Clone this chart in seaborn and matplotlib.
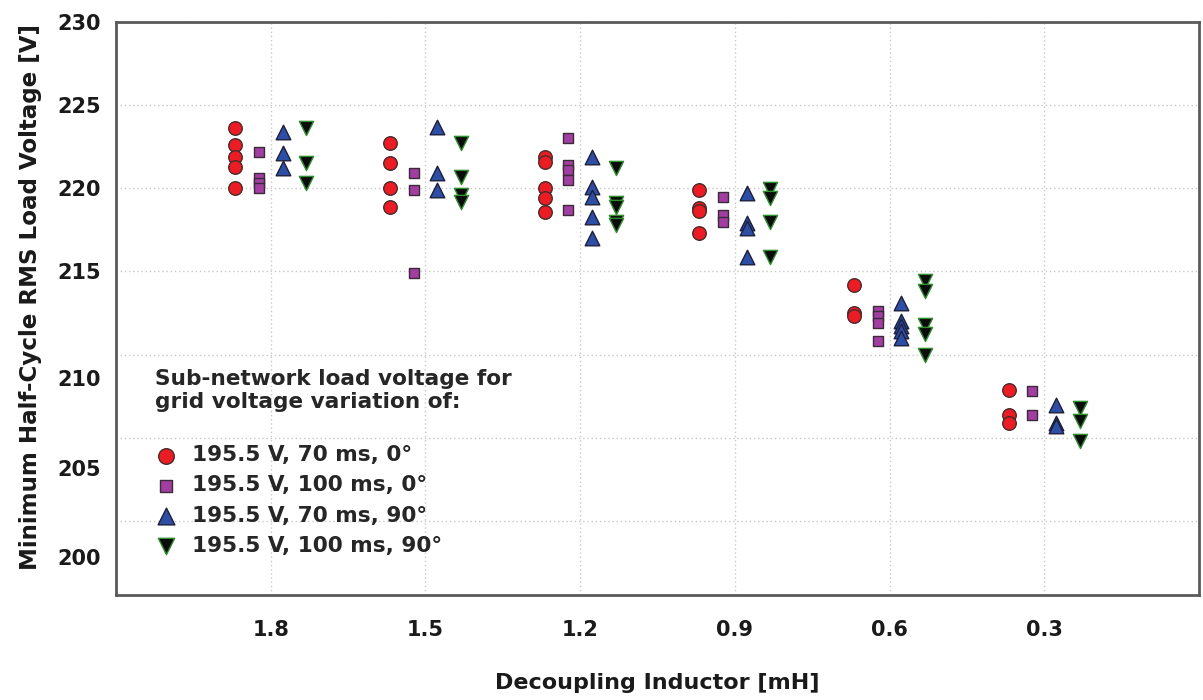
"""
Minimum half-cycle RMS load voltage vs decoupling inductor
"""

import pandas as pd
import matplotlib
matplotlib.use("Agg")
import matplotlib.pyplot as plt
import seaborn as sns

# categories (x axis, left to right)
inductance = ["1.8", "1.5", "1.2", "0.9", "0.6", "0.3"]

# one list of measured voltages per inductor value, per test case
v_70ms_0deg = [
    [223.6, 222.6, 221.9, 221.3, 220.0],
    [222.7, 221.5, 220.0, 218.9],
    [221.9, 221.6, 220.0, 219.4, 218.6],
    [219.9, 218.8, 218.65, 217.3],
    [214.2, 212.5, 212.3],
    [207.9, 206.4, 205.9],
]
v_100ms_0deg = [
    [222.2, 220.6, 220.3, 220.0],
    [220.9, 219.9, 214.9],
    [223.0, 221.4, 221.1, 220.5, 218.7],
    [219.5, 218.4, 218.0],
    [212.6, 212.3, 211.9, 210.8],
    [207.8, 206.4],
]
v_70ms_90deg = [
    [223.4, 222.1, 221.2],
    [223.7, 220.9, 219.9],
    [221.9, 220.1, 219.5, 218.3, 217.0],
    [219.7, 217.9, 217.6, 215.9],
    [213.1, 212.0, 211.7, 211.4, 211.0],
    [207.0, 205.9, 205.7],
]
v_100ms_90deg = [
    [223.6, 221.5, 220.3],
    [222.7, 220.7, 219.6, 219.2],
    [221.2, 219.1, 218.9, 218.0, 217.8],
    [219.95, 219.4, 218.0, 215.9],
    [214.4, 213.8, 211.8, 211.25, 210.0],
    [206.8, 206.0, 204.8],
]

series_labels = [
    "195.5 V, 70 ms, 0°",
    "195.5 V, 100 ms, 0°",
    "195.5 V, 70 ms, 90°",
    "195.5 V, 100 ms, 90°",
]
series_values = [v_70ms_0deg, v_100ms_0deg, v_70ms_90deg, v_100ms_90deg]

# y ticks; the labels in the original sit a bit low for the lower values
y_ticks = [200, 205, 210, 215, 220, 225, 230]
y_tick_labels = ["200", "205", "210", "215", "220", "225", "230"]
y_label_pos = [197.85, 203.2, 208.6, 215, 220, 225, 230]

# marker styling per series
styles = [
    dict(marker="o", color="#ec1c24", edgecolor="#4a2a2a", s=95),
    dict(marker="s", color="#a23ea2", edgecolor="#3a2a3a", s=62),
    dict(marker="^", color="#2d4ea5", edgecolor="#1e1e3a", s=110),
    dict(marker="v", color="#0b0b0b", edgecolor="#2f8f2f", s=105),
]
dodge = [-0.23, -0.077, 0.077, 0.23]

rows = []
for k, (label, vals) in enumerate(zip(series_labels, series_values)):
    for i, cat in enumerate(inductance):
        for v in vals[i]:
            rows.append({"series": label, "pos": i + dodge[k], "voltage": v})
df = pd.DataFrame(rows)

sns.set_style("white")
plt.rcParams["font.family"] = ["DejaVu Sans"]
plt.rcParams["font.weight"] = "bold"

fig = plt.figure(figsize=(12.03, 7.00), dpi=100)
ax = fig.add_axes([0.0964, 0.15, 0.9003, 0.8186])

for label, st in zip(series_labels, styles):
    sub = df[df["series"] == label]
    sns.scatterplot(data=sub, x="pos", y="voltage", ax=ax, marker=st["marker"],
                    color=st["color"], edgecolor=st["edgecolor"], s=st["s"],
                    linewidth=1.0, zorder=3, label=label)

ax.set_xlim(-1.0, 6.0)
ax.set_ylim(195.55, 230)
ax.set_xticks(range(len(inductance)))
ax.set_xticklabels(inductance, fontsize=15, fontweight="bold", color="#1a1a1a")

# tick marks + grid on major ticks, labels on minor ticks
ax.yaxis.remove_overlapping_locs = False
ax.set_yticks(y_ticks)
ax.set_yticklabels([])
ax.set_yticks(y_label_pos, minor=True)
ax.set_yticklabels(y_tick_labels, minor=True, fontsize=15, fontweight="bold",
                   color="#1a1a1a")

ax.grid(True, which="major", color="#c8c8c8", linestyle=(0, (1, 2)), linewidth=1.0)
ax.set_axisbelow(True)
ax.tick_params(axis="y", which="major", direction="in", length=10, width=1.5,
               color="#555555")
ax.tick_params(axis="y", which="minor", length=0, pad=11)
ax.tick_params(axis="x", direction="in", length=7, width=1.2, color="#555555", pad=18)
for sp in ax.spines.values():
    sp.set_color("#5a5a5a")
    sp.set_linewidth(2)

ax.set_xlabel("Decoupling Inductor [mH]", fontsize=16, fontweight="bold",
              labelpad=24, color="#1a1a1a")
ax.set_ylabel("Minimum Half-Cycle RMS Load Voltage [V]", fontsize=16.6,
              fontweight="bold", color="#1a1a1a")
ax.yaxis.set_label_coords(-0.068, 0.52)

leg = ax.legend(title="Sub-network load voltage for\ngrid voltage variation of:\n ",
                loc="upper left", bbox_to_anchor=(0.028, 0.41), frameon=False,
                fontsize=15.6, title_fontsize=15.6, labelspacing=0.47,
                handlelength=1.0, handletextpad=0.7, borderaxespad=0,
                markerscale=1.15)
leg._legend_box.align = "left"
leg.get_title().set_fontweight("bold")
leg.get_title().set_linespacing(1.2)
for t in leg.get_texts():
    t.set_fontweight("bold")

plt.savefig("out.png", dpi=100)
